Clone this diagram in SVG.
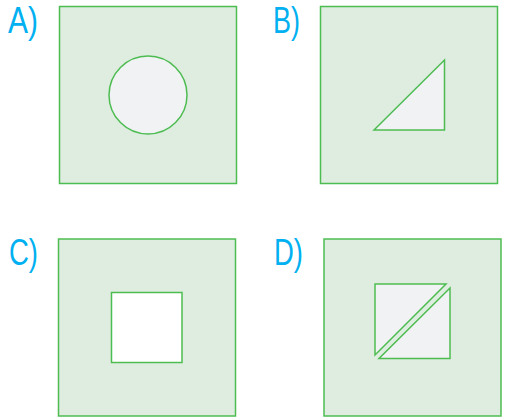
<svg xmlns="http://www.w3.org/2000/svg" width="505" height="418" viewBox="0 0 505 418">
<style>
.box{fill:#DEEDDF;stroke:#4DBD52;stroke-width:1.5}
.in{fill:#F1F2F4;stroke:#4DBD52;stroke-width:1.5;stroke-linejoin:miter}
.lbl{font-family:"Liberation Sans",Arial,sans-serif;font-size:36px;fill:#00B0F0}
</style>
<rect width="505" height="418" fill="#FFFFFF"/>
<g id="A">
<text class="lbl" x="8" y="33" textLength="30" lengthAdjust="spacingAndGlyphs">A)</text>
<rect class="box" x="59.5" y="6.5" width="177" height="177"/>
<circle class="in" cx="148" cy="95" r="39"/>
</g>
<g id="B">
<text class="lbl" x="273" y="33" textLength="27" lengthAdjust="spacingAndGlyphs">B)</text>
<rect class="box" x="320.5" y="6.5" width="177" height="177"/>
<polygon class="in" points="374,130 444.5,60 444.5,130"/>
</g>
<g id="C">
<text class="lbl" x="9" y="265" textLength="29" lengthAdjust="spacingAndGlyphs">C)</text>
<rect class="box" x="58.5" y="239" width="177" height="177"/>
<rect x="111.5" y="292.5" width="70.5" height="70" fill="#FFFFFF" stroke="#4DBD52" stroke-width="1.5"/>
</g>
<g id="D">
<text class="lbl" x="274" y="265" textLength="29" lengthAdjust="spacingAndGlyphs">D)</text>
<rect class="box" x="324" y="239" width="177" height="177"/>
<polygon class="in" points="375,284 446,284 375,355"/>
<polygon class="in" points="450,288 450,358.5 379,358.5"/>
</g>
</svg>
